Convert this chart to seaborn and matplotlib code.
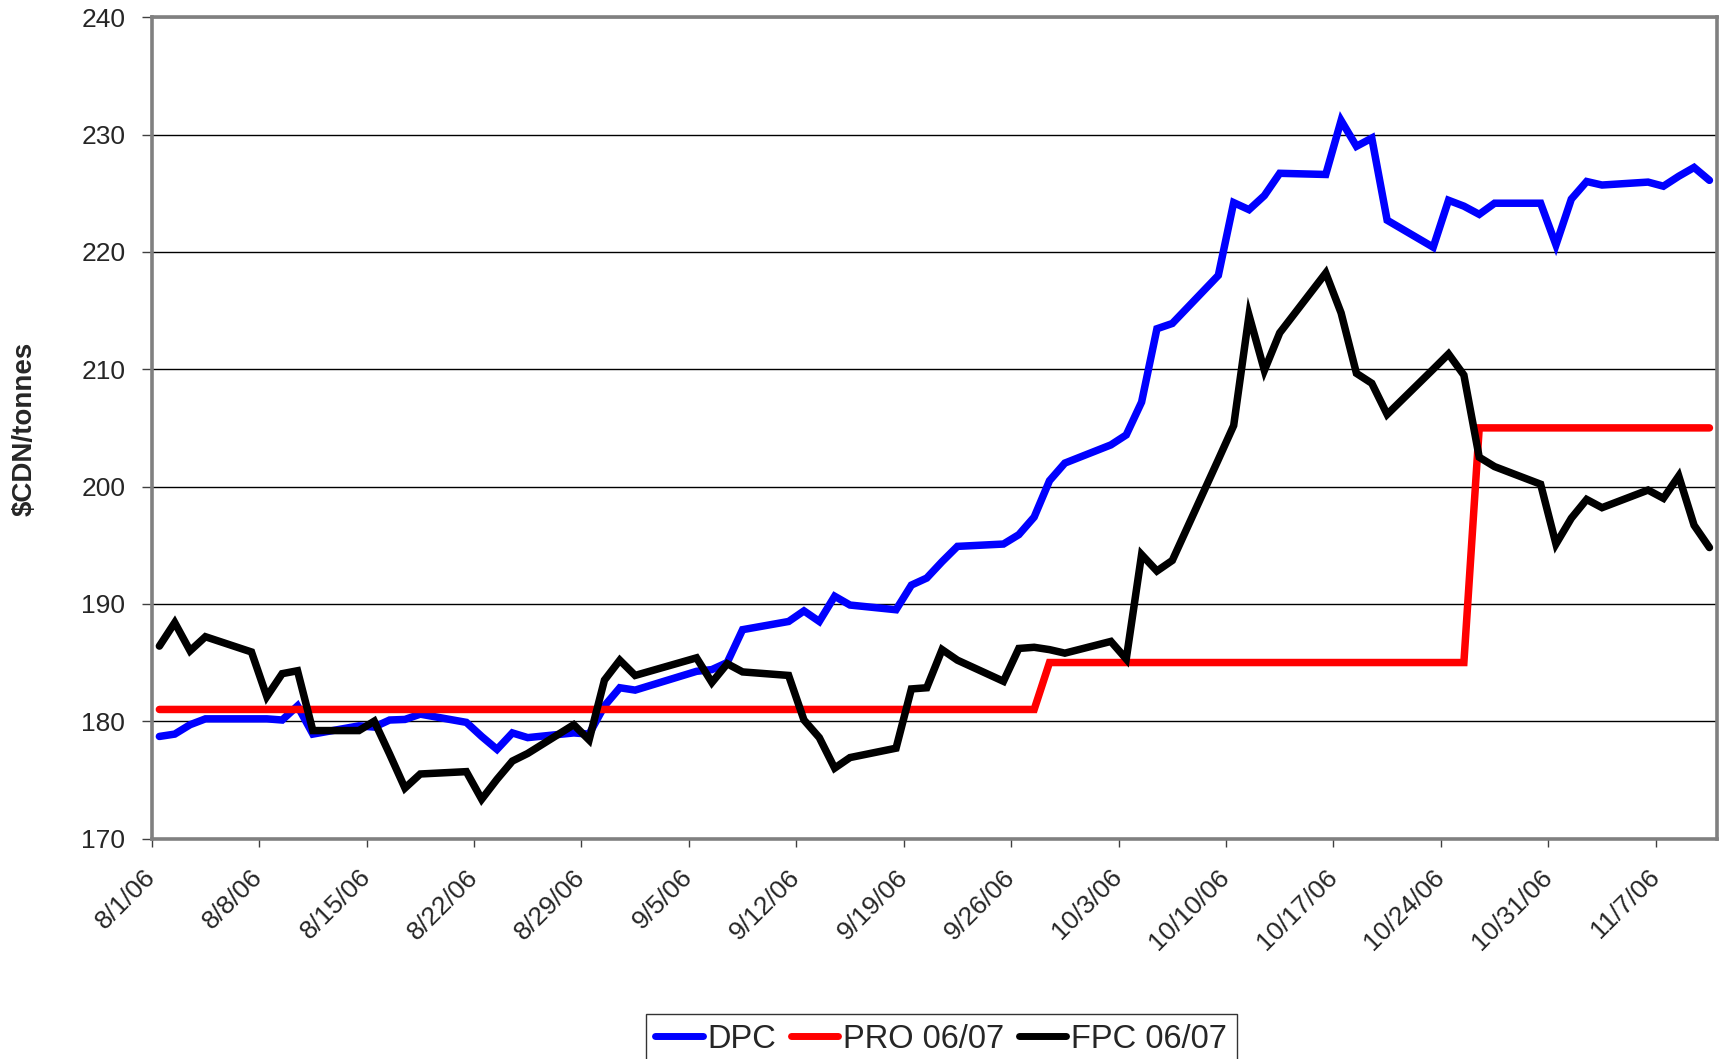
import pandas as pd
import matplotlib
matplotlib.use("Agg")
import matplotlib.pyplot as plt
import seaborn as sns
from matplotlib import font_manager
from matplotlib.lines import Line2D

sns.set_theme(style="white")
plt.rcParams['font.family'] = ['Liberation Sans', 'DejaVu Sans']

# trading days (Aug 1 - Nov 10, 2006)
dates = [
    "2006-08-01", "2006-08-02", "2006-08-03", "2006-08-04",
    "2006-08-07", "2006-08-08", "2006-08-09", "2006-08-10", "2006-08-11",
    "2006-08-14", "2006-08-15", "2006-08-16", "2006-08-17", "2006-08-18",
    "2006-08-21", "2006-08-22", "2006-08-23", "2006-08-24", "2006-08-25",
    "2006-08-28", "2006-08-29", "2006-08-30", "2006-08-31", "2006-09-01",
    "2006-09-05", "2006-09-06", "2006-09-07", "2006-09-08",
    "2006-09-11", "2006-09-12", "2006-09-13", "2006-09-14", "2006-09-15",
    "2006-09-18", "2006-09-19", "2006-09-20", "2006-09-21", "2006-09-22",
    "2006-09-25", "2006-09-26", "2006-09-27", "2006-09-28", "2006-09-29",
    "2006-10-02", "2006-10-03", "2006-10-04", "2006-10-05", "2006-10-06",
    "2006-10-09", "2006-10-10", "2006-10-11", "2006-10-12", "2006-10-13",
    "2006-10-16", "2006-10-17", "2006-10-18", "2006-10-19", "2006-10-20",
    "2006-10-23", "2006-10-24", "2006-10-25", "2006-10-26", "2006-10-27",
    "2006-10-30", "2006-10-31", "2006-11-01", "2006-11-02", "2006-11-03",
    "2006-11-06", "2006-11-07", "2006-11-08", "2006-11-09", "2006-11-10",
]

dpc = [
    178.7, 178.9, 179.7, 180.2,
    180.2, 180.2, 180.1, 181.3, 178.9,
    179.6, 179.5, 180.1, 180.15, 180.6,
    179.9, 178.7, 177.6, 179.0, 178.6,
    179.0, 178.9, 181.3, 182.85, 182.65,
    184.25, 184.4, 185.0, 187.8,
    188.5, 189.4, 188.5, 190.65, 189.9,
    189.5, 191.6, 192.2, 193.6, 194.9,
    195.1, 195.9, 197.4, 200.5, 202.0,
    203.55, 204.4, 207.2, 213.45, 213.9,
    218.0, 224.2, 223.6, 224.8, 226.7,
    226.6, 231.2, 229.0, 229.7, 222.7,
    220.4, 224.4, 223.9, 223.2, 224.15,
    224.15, 220.6, 224.5, 226.0, 225.7,
    225.95, 225.6, 226.45, 227.2, 226.1,
]

# PRO 06/07: 181 until 9/27, 185 from 9/28, 205 from 10/26
pro = [181.0] * 41 + [185.0] * 20 + [205.0] * 12

fpc = [
    186.4, 188.4, 186.0, 187.2,
    185.9, 182.1, 184.05, 184.3, 179.2,
    179.2, 180.0, 177.2, 174.3, 175.5,
    175.7, 173.35, 175.05, 176.6, 177.25,
    179.7, 178.4, 183.5, 185.2, 183.9,
    185.4, 183.3, 184.9, 184.2,
    183.9, 180.1, 178.6, 176.0, 176.9,
    177.7, 182.75, 182.85, 186.1, 185.2,
    183.4, 186.2, 186.3, 186.1, 185.8,
    186.8, 185.3, 194.2, 192.8, 193.7,
    202.3, 205.2, 214.6, 209.9, 213.1,
    218.2, 214.8, 209.65, 208.8, 206.15,
    210.0, 211.3, 209.5, 202.5, 201.7,
    200.2, 195.1, 197.3, 198.9, 198.2,
    199.7, 199.0, 200.9, 196.7, 194.8,
]

series_names = ["DPC", "PRO 06/07", "FPC 06/07"]
colors = {"DPC": "#0000FF", "PRO 06/07": "#FF0000", "FPC 06/07": "#000000"}

# long table for seaborn; Excel date axis puts each point mid-day
day = pd.to_datetime(dates) + pd.Timedelta(hours=12)
df = pd.concat([
    pd.DataFrame({"date": day, "price": vals, "series": name})
    for name, vals in zip(series_names, [dpc, pro, fpc])
])

fig = plt.figure(figsize=(17.24, 10.59), dpi=100)
ax = fig.add_axes([0.088, 0.2082, 0.908, 0.7755])

sns.lineplot(data=df, x="date", y="price", hue="series", hue_order=series_names,
             palette=colors, linewidth=5.4, sort=False, estimator=None,
             legend=False, ax=ax)
for ln in ax.lines:
    ln.set_solid_capstyle("round")
    ln.set_solid_joinstyle("miter")

ax.set_ylim(170, 240)
ax.set_yticks(range(170, 241, 10))
ax.set_xlim(pd.Timestamp("2006-08-01"), pd.Timestamp("2006-11-11"))
ticks = pd.date_range("2006-08-01", "2006-11-07", freq="7D")
ax.set_xticks(ticks)
ax.set_xticklabels([f"{t.month}/{t.day}/06" for t in ticks], rotation=45,
                   ha="right", va="center", rotation_mode="anchor")

ax.yaxis.grid(True, color="black", linewidth=1.0)
ax.set_axisbelow(True)
for sp in ax.spines.values():
    sp.set_color("#808080")
    sp.set_linewidth(2.6)

ax.tick_params(axis="y", direction="out", length=7, width=1, color="#404040",
               labelsize=19, pad=12, left=True)
ax.tick_params(axis="x", direction="out", length=6, width=1, color="#404040",
               labelsize=19, pad=19, bottom=True)
ax.set_xlabel("")
ax.set_ylabel("")

names = {f.name for f in font_manager.fontManager.ttflist}
label_font = "Liberation Sans Narrow" if "Liberation Sans Narrow" in names else "Liberation Sans"
fig.text(0.014, 0.595, "$CDN/tonnes", rotation=90, ha="center", va="center",
         fontsize=20, fontweight="bold", family=label_font)

handles = [Line2D([0], [0], color=colors[n], linewidth=5, solid_capstyle="round")
           for n in series_names]
leg = fig.legend(handles, series_names, loc="upper center",
                 bbox_to_anchor=(0.546, 0.0425), ncol=3, fontsize=23.5,
                 frameon=True, fancybox=False, edgecolor="black",
                 handlelength=1.45, handletextpad=0.15, columnspacing=0.45,
                 borderpad=0.3, borderaxespad=0)
leg.get_frame().set_linewidth(1.0)

fig.savefig("out.png", dpi=100)
